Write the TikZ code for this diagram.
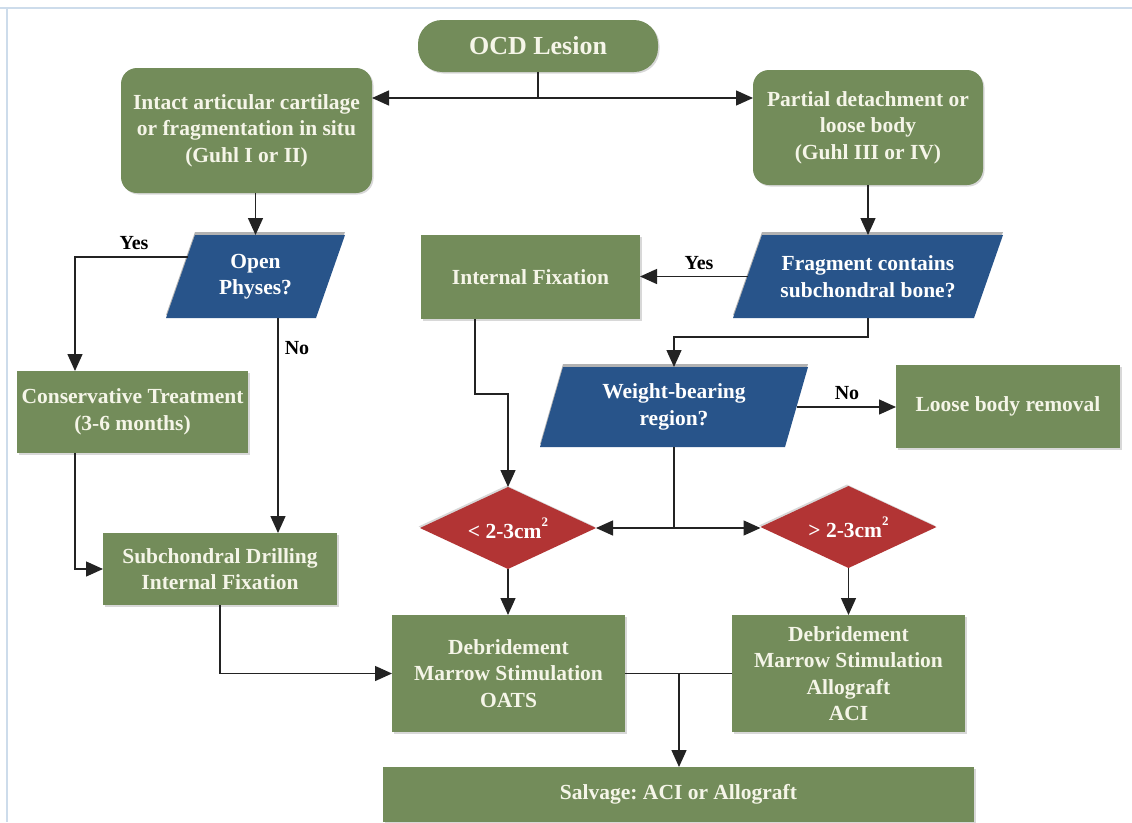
\documentclass[tikz,border=0pt]{standalone}
\usepackage{fontspec}
\setmainfont{Liberation Serif}
\frenchspacing
\usetikzlibrary{arrows.meta,shapes.geometric,backgrounds,calc,shadows}
\definecolor{gbox}{RGB}{115,140,90}
\definecolor{bbox}{RGB}{40,84,138}
\definecolor{rbox}{RGB}{178,52,52}
\definecolor{gtext}{RGB}{245,245,232}
\definecolor{frameblue}{RGB}{205,220,235}
\definecolor{lin}{RGB}{35,35,35}
\newcommand\parafill[2]{%
  \begin{scope}[on background layer]
    \fill[black,opacity=0.3] ([xshift=#2pt,yshift=3pt]#1.north west) -- ([xshift=#2pt,yshift=3pt]#1.north east) -- ([xshift=-#2pt,yshift=3pt]#1.south east) -- ([xshift=-#2pt,yshift=3pt]#1.south west) -- cycle;
    \fill[bbox] ([xshift=#2pt]#1.north west) -- ([xshift=#2pt]#1.north east) -- ([xshift=-#2pt]#1.south east) -- ([xshift=-#2pt]#1.south west) -- cycle;
  \end{scope}}
\begin{document}
\begin{tikzpicture}[x=1pt,y=-1pt,
  txt/.style={font=\bfseries\fontsize{21.5}{26.5}\selectfont, align=center, inner sep=0pt, outer sep=0pt},
  gbx/.style={txt, fill=gbox, text=gtext, drop shadow={shadow xshift=1.5pt, shadow yshift=-1.5pt, opacity=0.3}},
  pbx/.style={txt, text=white},
  dia/.style={txt, diamond, aspect=2.15, fill=rbox, text=white, minimum width=176pt, minimum height=82pt, drop shadow={shadow xshift=-1.5pt, shadow yshift=1.5pt, opacity=0.3}},
  lbl/.style={font=\bfseries\fontsize{20}{24}\selectfont, text=black, inner sep=0pt},
  ln/.style={draw=lin, line width=1.4pt},
  arr/.style={ln, -{Triangle[length=17pt,width=15pt]}}
]
\useasboundingbox (0,0) rectangle (1132,822);
\begin{scope}[on background layer]
\fill[white] (0,0) rectangle (1132,822);
\draw[frameblue, line width=2.5pt] (0,8) -- (1132,8);
\draw[frameblue, line width=2pt] (7,8) -- (7,822);
\end{scope}

% nodes
\node[gbx, rounded corners=24pt, minimum width=240pt, minimum height=52pt, font=\bfseries\fontsize{26}{30}\selectfont] (ocd) at (538,46) {OCD Lesion};
\node[gbx, rounded corners=16pt, minimum width=251pt, minimum height=125pt] (intact) at (246.5,130.5) {Intact articular cartilage\\or fragmentation in situ\\(Guhl I or II)};
\node[gbx, rounded corners=16pt, minimum width=230pt, minimum height=115pt] (partial) at (868,127.5) {Partial detachment or\\loose body\\(Guhl III or IV)};

\node[pbx, minimum width=150pt, minimum height=83pt] (physes) at (255.5,276.5) {Open\\Physes?};
\parafill{physes}{14.5}
\node[pbx, minimum width=241pt, minimum height=83pt] (frag) at (868,276.5) {Fragment contains\\subchondral bone?};
\parafill{frag}{14.5}
\node[pbx, minimum width=245pt, minimum height=80pt] (weight) at (674,407) {Weight-bearing\\region?};
\parafill{weight}{11.5}

\node[gbx, minimum width=219pt, minimum height=84pt] (intfix) at (530.5,277) {Internal Fixation};
\node[gbx, minimum width=224pt, minimum height=83pt] (loose) at (1008,406.5) {Loose body removal};
\node[gbx, minimum width=231pt, minimum height=82pt] (cons) at (132.5,412) {Conservative Treatment\\(3-6 months)};
\node[gbx, minimum width=234pt, minimum height=72pt] (sub) at (220,569) {Subchondral Drilling\\Internal Fixation};

\node[dia] (d1) at (508,528) {< 2-3cm\raisebox{0.55em}{\fontsize{13}{13}\selectfont 2}};
\node[dia] (d2) at (848.5,527) {> 2-3cm\raisebox{0.55em}{\fontsize{13}{13}\selectfont 2}};

\node[gbx, minimum width=233pt, minimum height=117pt] (deb1) at (508.5,673.5) {Debridement\\Marrow Stimulation\\OATS};
\node[gbx, minimum width=233pt, minimum height=117pt] (deb2) at (848.5,673.5) {Debridement\\Marrow Stimulation\\Allograft\\ACI};
\node[gbx, minimum width=591pt, minimum height=55pt] (salv) at (678.5,794.5) {Salvage: ACI or Allograft};

% labels
\node[lbl] (yes1) at (134,243) {Yes};
\node[lbl] (no1) at (297,348) {No};
\node[lbl] (yes2) at (699,263) {Yes};
\node[lbl] (no2) at (847,393) {No};

% connectors
\coordinate (split) at (538,98);
\draw[ln] (ocd.south) -- (split);
\draw[arr] (split) -- (split -| intact.east);
\draw[arr] (split) -- (split -| partial.west);

\draw[arr] (intact.south -| physes.north) -- (physes.north);
\draw[arr] (partial.south) -- (frag.north);

\coordinate (phY) at (188,257);
\draw[arr] (phY) -| ([xshift=-57.5pt]cons.north);
\draw[arr] ([xshift=22.5pt]physes.south) -- ([xshift=22.5pt]physes.south |- sub.north);
\draw[arr] ([xshift=-57.5pt]cons.south) |- (sub.west);
\draw[arr] (sub.south) |- (deb1.west);

\draw[arr] (frag.west) -- (frag.west -| intfix.east);
\draw[arr] (frag.south) -- ++(0,19) -| (weight.north);
\draw[arr] (weight.east) -- (weight.east -| loose.west);

\draw[arr] ([xshift=-55.5pt]intfix.south) -- ++(0,75) -| (d1.north);

\coordinate (wsplit) at (weight.south |- d1.east);
\draw[ln] (weight.south) -- (wsplit);
\draw[arr] (wsplit) -- (d1.east);
\draw[arr] (wsplit) -- (wsplit -| d2.west);

\draw[arr] (d1.south) -- (d1.south |- deb1.north);
\draw[arr] (d2.south) -- (d2.south |- deb2.north);

\coordinate (jn) at (679,673.5);
\draw[ln] (deb1.east) -- (deb2.west);
\draw[arr] (jn) -- (jn |- salv.north);
\end{tikzpicture}
\end{document}
